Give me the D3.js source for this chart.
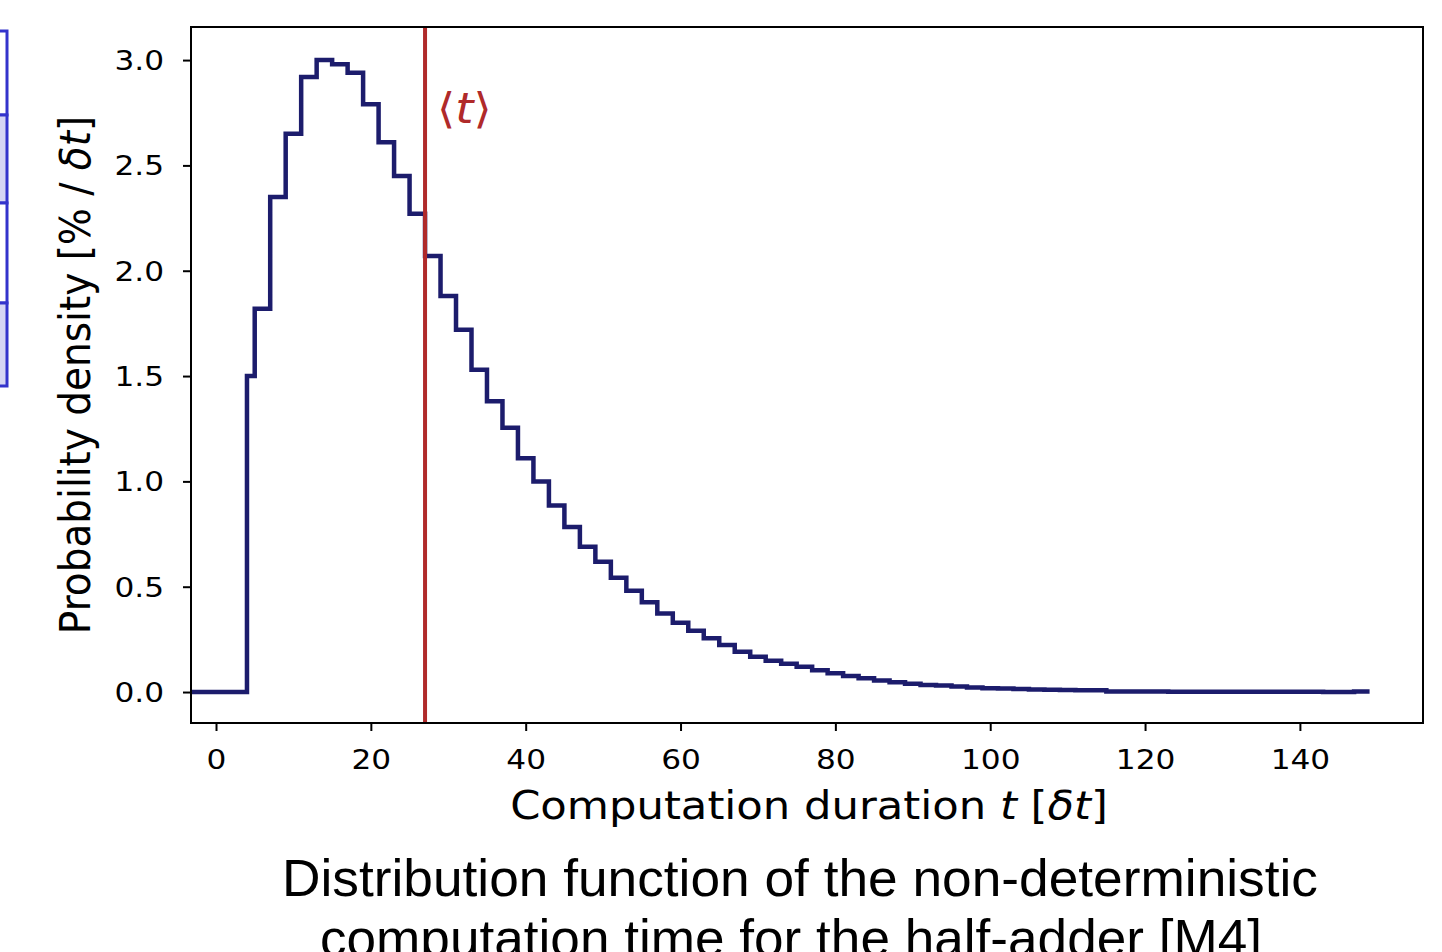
<!DOCTYPE html>
<html>
<head>
<meta charset="utf-8">
<script src="https://cdn.jsdelivr.net/npm/d3@7"></script>
<style>
  body { margin: 0; background: #fff; }
</style>
</head>
<body>
<svg id="chart" width="1442" height="952"></svg>
<script>
// histogram of computation durations (t in units of δt)
var firstBin = [4, 5];
var firstValue = 1.50;
var binEdgeStart = 5;
var binWidth = 2;
var density = [
  1.82, 2.35, 2.65, 2.92, 3.00, 2.98, 2.94, 2.79, 2.61, 2.45,
  2.27, 2.07, 1.88, 1.72, 1.53, 1.38, 1.255, 1.11, 1.00, 0.886,
  0.784, 0.69, 0.619, 0.543, 0.481, 0.426, 0.373, 0.329, 0.291, 0.255,
  0.223, 0.191, 0.168, 0.149, 0.134, 0.120, 0.104, 0.089, 0.076, 0.065,
  0.055, 0.046, 0.039, 0.033, 0.031, 0.026, 0.021, 0.018, 0.017, 0.014,
  0.012, 0.011, 0.010, 0.009, 0.008, 0.003, 0.002, 0.002, 0.002, 0.001,
  0.001, 0.001, 0.001, 0.001, 0.001, 0.001, 0.001, 0.001, 0.001, 0.000,
  0.000, 0.002
];
var meanT = 27;
var xTicks = [0, 20, 40, 60, 80, 100, 120, 140];
var yTicks = [0, 0.5, 1.0, 1.5, 2.0, 2.5, 3.0];
var xLabel = ["Computation duration ", "t", " [", "δt", "]"];
var yLabel = ["Probability density [% / ", "δt", "]"];
var captionLines = [
  "Distribution function of the non-deterministic",
  "computation time for the half-adder [M4]"
];

// the source picture is a bit stretched horizontally
var SX_TICK = 1.2;
var SX_LABEL = 1.11;
var FONT = "DejaVu Sans, sans-serif";
var lineColor = "#1c1c6c";
var meanColor = "#b02a2a";

var svg = d3.select("#chart");
var plot = { left: 191, right: 1423, top: 27, bottom: 723 };

var x = d3.scaleLinear().domain([-3.23, 155.9]).range([plot.left, plot.right]);
var y = d3.scaleLinear().domain([-0.147, 3.157]).range([plot.bottom, plot.top]);

// cropped slide table on the far left
var tableRows = [
  { y0: 31, y1: 115, fill: "#ffffff" },
  { y0: 115, y1: 203, fill: "#d6d6f4" },
  { y0: 203, y1: 303, fill: "#ffffff" },
  { y0: 303, y1: 386, fill: "#d6d6f4" }
];
svg.append("g").selectAll("rect").data(tableRows).enter().append("rect")
  .attr("x", -4).attr("width", 11)
  .attr("y", function(d) { return d.y0; })
  .attr("height", function(d) { return d.y1 - d.y0; })
  .attr("fill", function(d) { return d.fill; })
  .attr("stroke", "#3434cc").attr("stroke-width", 3);

// step line points
var pts = [[x.domain()[0], 0], [firstBin[0], firstValue]];
density.forEach(function(v, i) {
  pts.push([binEdgeStart + i * binWidth, v]);
});
pts.push([binEdgeStart + density.length * binWidth, density[density.length - 1]]);

var line = d3.line()
  .x(function(d) { return x(d[0]); })
  .y(function(d) { return y(d[1]); })
  .curve(d3.curveStepAfter);

svg.append("path")
  .datum(pts)
  .attr("d", line)
  .attr("fill", "none")
  .attr("stroke", lineColor)
  .attr("stroke-width", 4.5)
  .attr("stroke-linejoin", "miter");

// mean line
svg.append("line")
  .attr("x1", x(meanT)).attr("x2", x(meanT))
  .attr("y1", plot.top).attr("y2", plot.bottom)
  .attr("stroke", meanColor).attr("stroke-width", 4);

var meanLbl = svg.append("text")
  .attr("transform", "translate(" + (x(meanT) + 12) + ",123) scale(" + SX_LABEL + ",1)")
  .style("font-family", FONT)
  .attr("fill", meanColor).attr("font-size", 42);
meanLbl.append("tspan").text("⟨");
meanLbl.append("tspan").attr("font-style", "italic").text("t");
meanLbl.append("tspan").text("⟩");

// frame
svg.append("rect")
  .attr("x", plot.left).attr("y", plot.top)
  .attr("width", plot.right - plot.left).attr("height", plot.bottom - plot.top)
  .attr("fill", "none").attr("stroke", "#000").attr("stroke-width", 2);

// axes
var xAxis = svg.append("g")
  .attr("transform", "translate(0," + plot.bottom + ")")
  .call(d3.axisBottom(x).tickValues(xTicks).tickSize(8).tickFormat(d3.format("d")));
var yAxis = svg.append("g")
  .attr("transform", "translate(" + plot.left + ",0)")
  .call(d3.axisLeft(y).tickValues(yTicks).tickSize(8).tickFormat(d3.format(".1f")));

[xAxis, yAxis].forEach(function(a) {
  a.select(".domain").remove();
  a.selectAll(".tick line").attr("stroke", "#000").attr("stroke-width", 2);
  a.selectAll(".tick text")
    .attr("fill", "#000").attr("font-size", 26)
    .style("font-family", FONT);
});
xAxis.selectAll(".tick text")
  .attr("y", 0).attr("dy", 0)
  .attr("transform", "translate(0,46) scale(" + SX_TICK + ",1)");
yAxis.selectAll(".tick text")
  .attr("x", 0).attr("dy", "0.36em")
  .attr("transform", "translate(-27,0) scale(" + SX_TICK + ",1)");

// axis labels
var xl = svg.append("text")
  .attr("text-anchor", "middle").attr("font-size", 39)
  .style("font-family", FONT)
  .attr("transform", "translate(809,819) scale(" + SX_LABEL + ",1)");
xl.selectAll("tspan").data(xLabel).enter().append("tspan")
  .attr("font-style", function(d, i) { return i % 2 ? "italic" : "normal"; })
  .text(function(d) { return d; });

var yl = svg.append("text")
  .attr("text-anchor", "middle").attr("font-size", 39)
  .style("font-family", FONT)
  .attr("transform", "translate(90,375) scale(" + SX_LABEL + ",1) rotate(-90)");
yl.selectAll("tspan").data(yLabel).enter().append("tspan")
  .attr("font-style", function(d, i) { return i % 2 ? "italic" : "normal"; })
  .text(function(d) { return d; });

// caption below the chart
svg.append("g").selectAll("text").data(captionLines).enter().append("text")
  .attr("x", function(d, i) { return i ? 791 : 800; })
  .attr("y", function(d, i) { return 896 + i * 60; })
  .attr("text-anchor", "middle")
  .style("font-family", "Liberation Sans, Arial, sans-serif")
  .attr("font-size", 52)
  .attr("textLength", function(d, i) { return i ? 942 : 1036; })
  .attr("lengthAdjust", "spacingAndGlyphs")
  .attr("fill", "#000")
  .text(function(d) { return d; });
</script>
</body>
</html>
